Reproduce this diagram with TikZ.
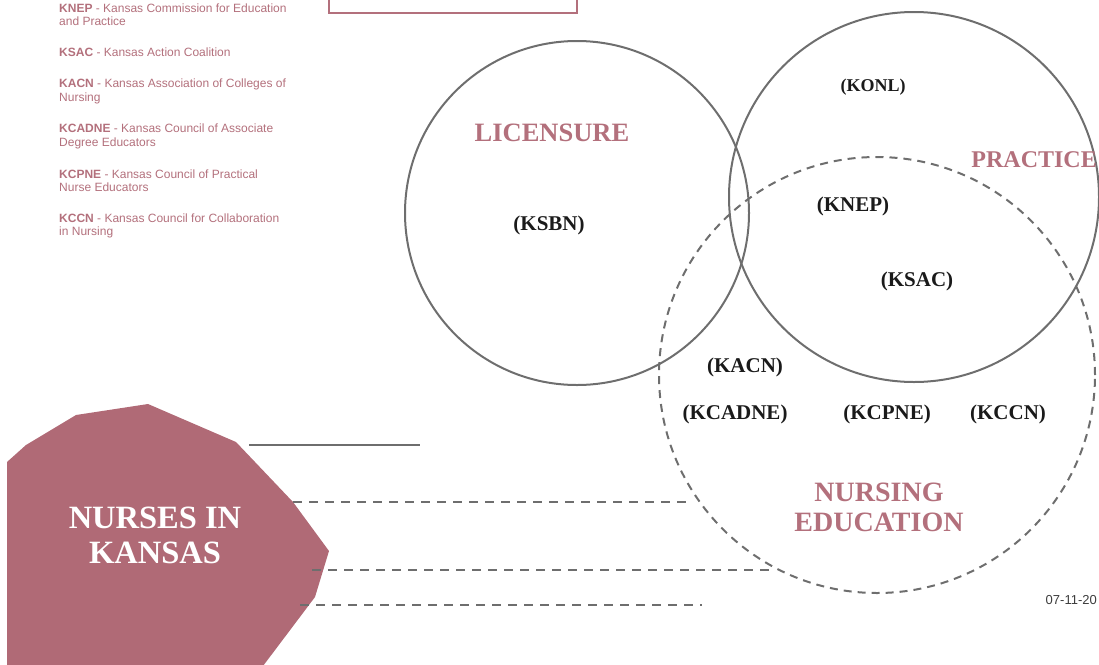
\documentclass[tikz,border=0pt]{standalone}
\usepackage{fontspec}
\setmainfont{Liberation Serif}
\newfontfamily\arialf{Liberation Sans}
\definecolor{rose}{HTML}{B06A76}
\definecolor{roset}{HTML}{B3707C}
\definecolor{ring}{HTML}{6E6E6E}
\definecolor{ink}{HTML}{1A1A1A}
\begin{document}
\begin{tikzpicture}[x=1pt,y=-1pt,
  ringc/.style={circle, draw=ring, line width=2pt, inner sep=0pt},
  legend/.style={anchor=base west, inner sep=0pt, text=roset, font=\arialf\fontsize{12}{14}\selectfont},
  big/.style={text=roset, font=\bfseries\fontsize{26.5}{28}\selectfont, inner sep=0pt},
  abbr/.style={text=ink, font=\bfseries\fontsize{21}{23}\selectfont, inner sep=0pt},
  dashl/.style={draw=ring, line width=2pt, dash pattern=on 9pt off 7pt}]
\useasboundingbox (0,0) rectangle (1099,664);
\clip (0,0) rectangle (1099,664);

% top box
\draw[roset, line width=1.5pt, fill=white] (329,-10) rectangle (577,13);

% legend
\node[legend] (l1a) at (59,12) {\textbf{KNEP} - Kansas Commission for Education};
\node[legend] (l1b) at (59,25) {and Practice};
\node[legend] (l2a) at (59,56) {\textbf{KSAC} - Kansas Action Coalition};
\node[legend] (l3a) at (59,87) {\textbf{KACN} - Kansas Association of Colleges of};
\node[legend] (l3b) at (59,101) {Nursing};
\node[legend] (l4a) at (59,132) {\textbf{KCADNE} - Kansas Council of Associate};
\node[legend] (l4b) at (59,146) {Degree Educators};
\node[legend] (l5a) at (59,178) {\textbf{KCPNE} - Kansas Council of Practical};
\node[legend] (l5b) at (59,191) {Nurse Educators};
\node[legend] (l6a) at (59,222) {\textbf{KCCN} - Kansas Council for Collaboration};
\node[legend] (l6b) at (59,235) {in Nursing};

% circles
\node[ringc, minimum size=344pt] (lic) at (577,213) {};
\node[ringc, minimum size=370pt] (prac) at (914,197) {};
\node[ringc, dash pattern=on 8pt off 6pt, minimum size=436pt] (edu) at (877,375) {};

% circle labels
\node[big] (tlic) at (552,133) {LICENSURE};
\node[big, font=\bfseries\fontsize{24}{26}\selectfont, anchor=east] (tprac) at (1097,160) {PRACTICE};
\node[big, font=\bfseries\fontsize{28}{30}\selectfont, align=center] (tedu) at (879,507) {NURSING\\EDUCATION};

\node[abbr, font=\bfseries\fontsize{18}{20}\selectfont] (konl) at (873,87) {(KONL)};
\node[abbr] (ksbn) at (549,225) {(KSBN)};
\node[abbr] (knep) at (853,206) {(KNEP)};
\node[abbr] (ksac) at (917,281) {(KSAC)};
\node[abbr] (kacn) at (745,367) {(KACN)};
\node[abbr] (kcadne) at (735,414) {(KCADNE)};
\node[abbr] (kcpne) at (887,414) {(KCPNE)};
\node[abbr] (kccn) at (1008,414) {(KCCN)};

% nurses polygon
\fill[rose] (7,670) -- (7,462) -- (26,445) -- (76,415) -- (148,404) -- (236,442)
  -- (293,502) -- (329,551) -- (315,597) -- (260,670) -- cycle;
\node[text=white, font=\bfseries\fontsize{32.5}{35}\selectfont, align=center, inner sep=0pt] (nik) at (155,535) {NURSES IN\\KANSAS};

% lines
\coordinate (s1) at (249,445); \coordinate (e1) at (420,445);
\draw[ring, line width=2.5pt] (s1) -- (e1);
\coordinate (d1s) at (293,502); \coordinate (d1e) at (692,502);
\coordinate (d2s) at (312,570); \coordinate (d2e) at (772,570);
\coordinate (d3s) at (300,605); \coordinate (d3e) at (702,605);
\draw[dashl] (d1s) -- (d1e);
\draw[dashl] (d2s) -- (d2e);
\draw[dashl] (d3s) -- (d3e);

% date
\node[anchor=base east, inner sep=0pt, text=ink!85, font=\arialf\fontsize{13}{15}\selectfont] (date) at (1097,604) {07-11-20};
\end{tikzpicture}
\end{document}
